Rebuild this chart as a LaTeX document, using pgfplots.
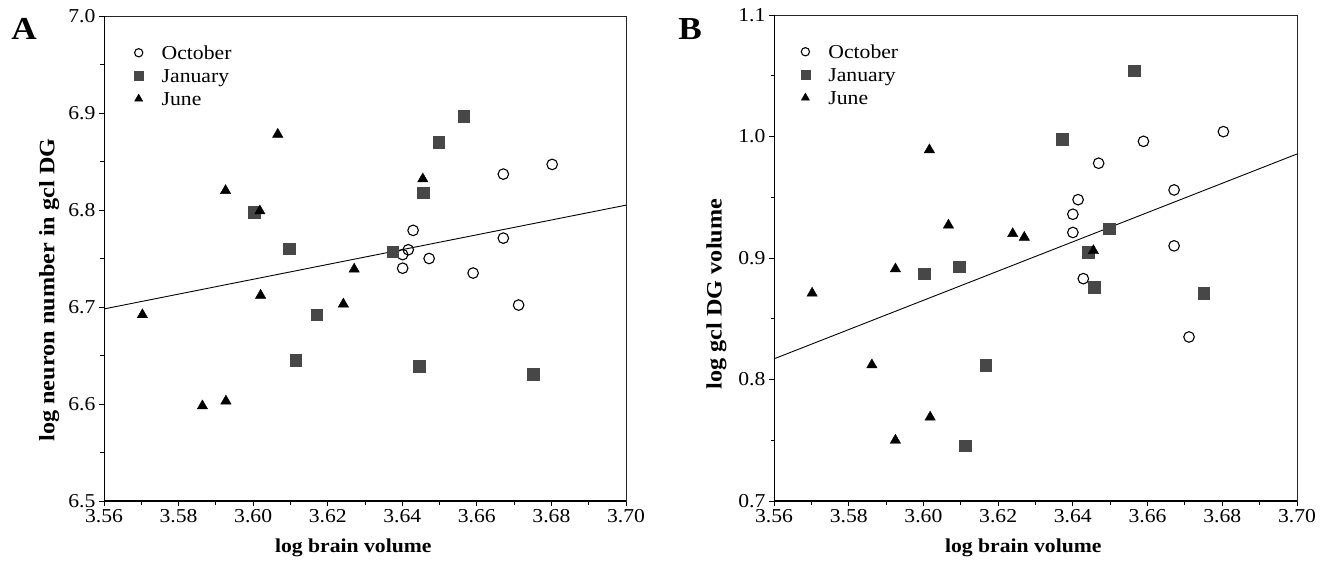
\documentclass[border=0pt]{standalone}
\usepackage{pgfplots}
\pgfplotsset{compat=1.18}
\usepackage{fontspec}
\setmainfont{Liberation Serif}[FakeStretch=1.1]
\definecolor{sq}{gray}{0.28}

\pgfplotsset{
  myaxis/.style={
    scale only axis,
    anchor=south west,
    xmin=3.56, xmax=3.70,
    xtick={3.56,3.58,3.60,3.62,3.64,3.66,3.68,3.70},
    minor x tick num=1, minor y tick num=1,
    tick align=outside,
    xtick pos=left, ytick pos=left,
    major tick length=5pt, minor tick length=3.5pt,
    every tick/.style={black, line width=0.9pt},
    axis line style={line width=0.8pt, black!85},
    tick label style={font=\fontsize{19.7}{23}\selectfont},
    /pgf/number format/assume math mode=true,
    x tick label style={/pgf/number format/.cd, fixed, fixed zerofill, precision=2},
    y tick label style={/pgf/number format/.cd, fixed, fixed zerofill, precision=1},
    every axis x label/.style={at={(axis description cs:0.4776,-0.0959)}, anchor=center, font=\fontsize{19.7}{23}\selectfont\bfseries},
    legend cell align=left,
    legend image code/.code={%
      \path[draw=none, fill=none] (-6pt,0pt) -- (21.5pt,0pt);
      \draw[##1, every mark/.append style={scale=0.78}] plot coordinates {(0pt,2pt)};
    },
    legend style={draw=none, fill=none, anchor=north west, inner sep=0pt,
      font=\fontsize{19.7}{23}\selectfont, row sep=2.5pt,
      nodes={inner sep=1.5pt, text height=13.5pt, text depth=4pt}},
  },
  oct/.style={only marks, mark=o, mark size=5.3pt, black, line width=1.1pt},
  jan/.style={only marks, mark=square*, mark size=5.8pt, draw=sq, fill=sq},
  jun/.style={only marks, mark=triangle*, mark size=6pt, black},
  reg/.style={no marks, black, line width=0.9pt, forget plot},
}

\begin{document}
\begin{tikzpicture}
\path[use as bounding box] (0pt,0pt) rectangle (1323pt,560pt);

% ---------- Panel A ----------
\begin{axis}[myaxis,
  at={(104pt,59pt)}, width=522pt, height=485pt,
  ymin=6.5, ymax=7.0,
  ytick={6.5,6.6,6.7,6.8,6.9,7.0},
  xlabel={log brain volume},
  ylabel={log neuron number in gcl DG},
  every axis y label/.style={at={(axis description cs:-0.105,0.435)}, rotate=90, anchor=center, font=\fontsize{22}{26}\selectfont\bfseries},
  legend style={at={(axis description cs:0,1)}, xshift=28.5pt, yshift=-28.3pt},
]
\addplot[reg] coordinates {(3.56,6.698) (3.70,6.805)};
\addplot[oct] coordinates {
  (3.6429,6.779) (3.6416,6.759) (3.6401,6.754) (3.6401,6.740) (3.6472,6.750)
  (3.6590,6.735) (3.6671,6.771) (3.6671,6.837) (3.6802,6.847) (3.6712,6.702)};
\addplot[jan] coordinates {
  (3.6565,6.897) (3.6498,6.870) (3.6456,6.818) (3.6374,6.757) (3.6003,6.798)
  (3.6097,6.760) (3.6114,6.645) (3.6170,6.692) (3.6445,6.639) (3.6751,6.631)};
\addplot[jun] coordinates {
  (3.5926,6.820) (3.6018,6.799) (3.6066,6.878) (3.6020,6.712) (3.6455,6.832)
  (3.6271,6.739) (3.6242,6.703) (3.5703,6.692) (3.5864,6.598) (3.5927,6.603)};
\legend{October, January, June}
\draw[line width=1.5pt, black] (rel axis cs:0,1) -- (rel axis cs:0,0) -- (rel axis cs:1,0);
\end{axis}

% ---------- Panel B ----------
\begin{axis}[myaxis,
  at={(774pt,59pt)}, width=523pt, height=486pt,
  ymin=0.7, ymax=1.1,
  ytick={0.7,0.8,0.9,1.0,1.1},
  xlabel={log brain volume},
  ylabel={log gcl DG volume},
  every axis x label/.style={at={(axis description cs:0.4767,-0.0957)}, anchor=center, font=\fontsize{19.7}{23}\selectfont\bfseries},
  every axis y label/.style={at={(axis description cs:-0.110,0.426)}, rotate=90, anchor=center, font=\fontsize{22}{26}\selectfont\bfseries},
  legend style={at={(axis description cs:0,1)}, xshift=25.2pt, yshift=-28.3pt},
]
\addplot[reg] coordinates {(3.56,0.817) (3.70,0.9856)};
\addplot[oct] coordinates {
  (3.6803,1.004) (3.6589,0.996) (3.6469,0.978) (3.6671,0.956) (3.6414,0.948)
  (3.6400,0.936) (3.6400,0.921) (3.6671,0.910) (3.6428,0.883) (3.6711,0.835)};
\addplot[jan] coordinates {
  (3.6564,1.054) (3.6372,0.998) (3.6498,0.924) (3.6441,0.905) (3.6457,0.876)
  (3.6750,0.871) (3.6002,0.887) (3.6096,0.893) (3.6167,0.812) (3.6112,0.7455)};
\addplot[jun] coordinates {
  (3.6016,0.989) (3.6067,0.927) (3.5925,0.891) (3.5702,0.871) (3.6239,0.920)
  (3.6270,0.917) (3.6455,0.906) (3.5862,0.812) (3.6018,0.769) (3.5925,0.750)};
\legend{October, January, June}
\draw[line width=1.5pt, black] (rel axis cs:0,1) -- (rel axis cs:0,0) -- (rel axis cs:1,0);
\end{axis}

\node[font=\fontsize{32}{36}\selectfont\bfseries] at (24pt,531pt) {A};
\node[font=\fontsize{32}{36}\selectfont\bfseries] at (690pt,531pt) {B};
\end{tikzpicture}
\end{document}
